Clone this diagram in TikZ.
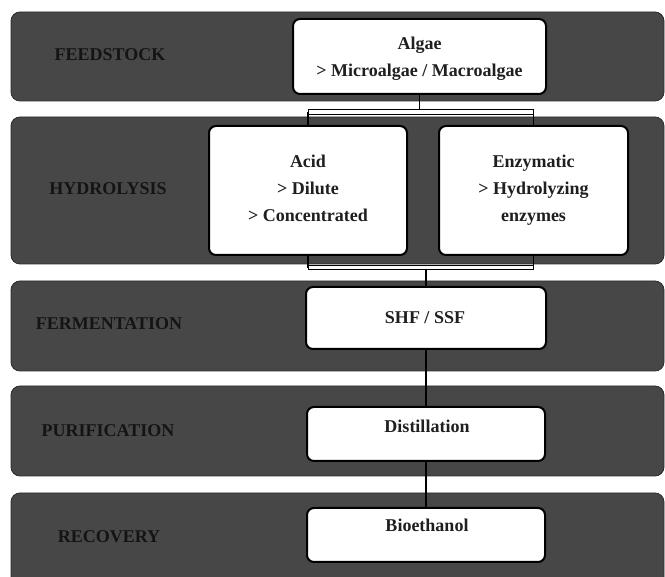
\documentclass[tikz,border=0pt]{standalone}
\usepackage{fontspec}
\setmainfont{Liberation Serif}[BoldFont={Liberation Serif Bold}]
\definecolor{bandfill}{HTML}{474747}
\definecolor{bandedge}{HTML}{2B2B2B}
\definecolor{lbltext}{HTML}{141414}
\begin{document}
\begin{tikzpicture}[x=1pt,y=-1pt,
  band/.style={draw=bandedge, fill=bandfill, line width=0.8pt, rounded corners=9pt, inner sep=0pt},
  boxshape/.style={rectangle, rounded corners=7pt, inner sep=0pt},
  box/.style={boxshape, draw=black, fill=white, line width=2pt},
  lbl/.style={font=\fontsize{18}{27}\selectfont\rmfamily\bfseries, text=lbltext, anchor=base, inner sep=0pt},
  txt/.style={font=\fontsize{18}{27}\selectfont\rmfamily\bfseries, text=black!88, anchor=base, inner sep=0pt},
  conn/.style={draw=black, line width=1.1pt},
  bar/.style={rectangle, draw=black, fill=white, line width=1pt, inner sep=0pt}]
\useasboundingbox (0,0) rectangle (665,577);
\clip (0,0) rectangle (665,577);
% bands
\node[band, minimum width=653pt, minimum height=89pt]  (b1) at (337.5,56.5) {};
\node[band, minimum width=653pt, minimum height=147pt] (b2) at (337.5,190.5) {};
\node[band, minimum width=653pt, minimum height=90pt]  (b3) at (337.5,326) {};
\node[band, minimum width=653pt, minimum height=90pt]  (b4) at (337.5,431) {};
\node[band, minimum width=653pt, minimum height=107pt] (b5) at (337.5,546.5) {};
% band labels
\node[lbl] (l1) at (110,61)  {FEEDSTOCK};
\node[lbl] (l2) at (108,195) {HYDROLYSIS};
\node[lbl] (l3) at (109,330) {FERMENTATION};
\node[lbl] (l4) at (108,437) {PURIFICATION};
\node[lbl] (l5) at (109,543) {RECOVERY};
% node shapes (positions only)
\path
  node[boxshape, minimum width=253pt, minimum height=75pt]  (algae) at (419.5,56.5) {}
  node[boxshape, minimum width=198pt, minimum height=129pt] (acid)  at (308,190.5) {}
  node[boxshape, minimum width=189pt, minimum height=129pt] (enz)   at (533.5,190.5) {}
  node[boxshape, minimum width=240pt, minimum height=62pt]  (shf)   at (426,318) {}
  node[boxshape, minimum width=238pt, minimum height=54pt]  (dist)  at (426,434) {}
  node[boxshape, minimum width=238pt, minimum height=54pt]  (bio)   at (426,535) {}
  node[rectangle, inner sep=0pt, minimum width=225.5pt, minimum height=5pt] (topbar) at (420.75,112.5) {}
  node[rectangle, inner sep=0pt, minimum width=225.5pt, minimum height=4pt] (botbar) at (420.75,268) {};
% connectors
\draw[conn] (algae.south) -- (algae.south |- topbar.center);
\draw[conn] (topbar.center -| acid.north) -- (acid.north);
\draw[conn] (topbar.center -| enz.north) -- (enz.north);
\draw[conn] (acid.south) -- (acid.south |- botbar.center);
\draw[conn] (enz.south) -- (enz.south |- botbar.center);
\draw[conn] (botbar.center -| shf.north) -- (shf.north);
\draw[conn] (shf) -- (dist);
\draw[conn] (dist) -- (bio);
% bars and boxes drawn over connectors
\path
  node[bar, minimum width=225.5pt, minimum height=5pt] at (topbar) {}
  node[bar, minimum width=225.5pt, minimum height=4pt] at (botbar) {}
  node[box, minimum width=253pt, minimum height=75pt]  at (algae) {}
  node[box, minimum width=198pt, minimum height=129pt] at (acid) {}
  node[box, minimum width=189pt, minimum height=129pt] at (enz) {}
  node[box, minimum width=240pt, minimum height=62pt]  at (shf) {}
  node[box, minimum width=238pt, minimum height=54pt]  at (dist) {}
  node[box, minimum width=238pt, minimum height=54pt]  at (bio) {};
% box texts
\node[txt] (t1a) at (419.5,50) {Algae};
\node[txt] (t1b) at (419.5,77) {> Microalgae / Macroalgae};
\node[txt] (t2a) at (308,168) {Acid};
\node[txt] (t2b) at (308,195) {> Dilute};
\node[txt] (t2c) at (308,222) {> Concentrated};
\node[txt] (t3a) at (533.5,168) {Enzymatic};
\node[txt] (t3b) at (533.5,195) {> Hydrolyzing};
\node[txt] (t3c) at (533.5,222) {enzymes};
\node[txt] (t4)  at (425,324) {SHF / SSF};
\node[txt] (t5)  at (427,433) {Distillation};
\node[txt] (t6)  at (427,532) {Bioethanol};
\end{tikzpicture}
\end{document}
